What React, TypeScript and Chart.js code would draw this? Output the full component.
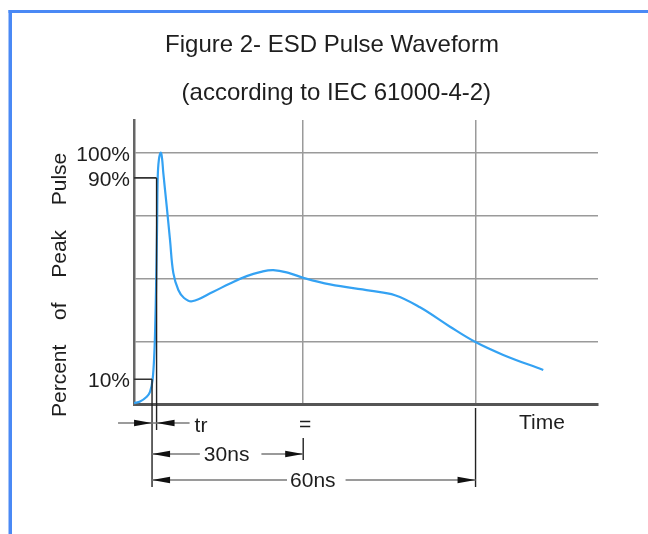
import React, { useEffect, useRef } from "react";
import { Chart, registerables } from "chart.js";

Chart.register(...registerables);

// ---- data ----
const titleLines = ["Figure 2- ESD Pulse Waveform", " (according to IEC 61000-4-2)"];
const yAxisWords = ["Percent", "of", "Peak", "Pulse"];
const xAxisLabel = "Time";

// time in ns (0 = 10% crossing), value in percent of peak
const timeNs = [
  -3.57, -2.38, -1.05, -0.4, 0.1, 0.46, 0.66, 0.79, 0.99, 1.13, 1.35, 1.73, 1.98, 2.24, 2.92,
  3.57, 4.23, 5.22, 6.35, 7.94, 12.16, 15.48, 18.79, 21.43, 24.07, 27.38, 30.02, 35.32, 43.25,
  48.21, 53.17, 59.13, 64.09, 69.7, 77.64,
];
const pulsePercent = [
  0.6, 1.2, 3.1, 5.0, 9.7, 20.5, 33.6, 45.5, 69.3, 90.3, 97.1, 100, 97.9, 91.9, 78.6, 65.3, 52.2,
  45.5, 42.3, 41.0, 44.8, 48.1, 51.0, 52.6, 53.4, 52.1, 50.3, 47.7, 45.2, 43.4, 38.6, 30.9, 24.9,
  19.7, 13.7,
];

const gridPercents = [0, 25, 50, 75, 100];
const gridTimes = [30, 64.2];
const yTickValues = [100, 90, 10];
const yTickLabels = ["100%", "90%", "10%"];
const riseTimes = [0, 0.9]; // 10% and 90% marker lines
const dimLabels = ["tr", "=", "30ns", "60ns"];

const FONT = '"Liberation Sans", Arial, Helvetica, sans-serif';

function arrowHead(ctx: CanvasRenderingContext2D, tipX: number, y: number, dir: number) {
  ctx.beginPath();
  ctx.moveTo(tipX, y);
  ctx.lineTo(tipX - dir * 18, y - 3.2);
  ctx.lineTo(tipX - dir * 18, y + 3.2);
  ctx.closePath();
  ctx.fill();
}

const overlay = {
  id: "overlay",
  beforeDraw(chart: any) {
    const ctx = chart.ctx as CanvasRenderingContext2D;
    ctx.save();
    ctx.fillStyle = "#ffffff";
    ctx.fillRect(0, 0, chart.width, chart.height);
    ctx.fillStyle = "#4a89f5";
    ctx.fillRect(8.5, 10, 3.5, chart.height);
    ctx.fillRect(8.5, 10, chart.width, 3);
    ctx.restore();
  },
  afterDraw(chart: any) {
    const ctx = chart.ctx as CanvasRenderingContext2D;
    const xs = chart.scales.x;
    const ys = chart.scales.y;
    const area = chart.chartArea;
    ctx.save();
    ctx.fillStyle = "#1e1e1e";
    ctx.textBaseline = "middle";

    // title
    ctx.font = `24px ${FONT}`;
    ctx.textAlign = "center";
    ctx.fillText(titleLines[0], 332, 45);
    ctx.fillText(titleLines[1], 333, 93);

    // y tick labels
    ctx.font = `21px ${FONT}`;
    ctx.textAlign = "right";
    yTickValues.forEach((v, i) => {
      ctx.fillText(yTickLabels[i], 130, ys.getPixelForValue(v) + 2);
    });

    // rotated, justified y axis label
    ctx.save();
    ctx.translate(60, 0);
    ctx.rotate(-Math.PI / 2);
    ctx.textAlign = "left";
    const start = 417;
    const end = ys.getPixelForValue(100);
    const widths = yAxisWords.map((w) => ctx.measureText(w).width);
    const total = widths.reduce((a, b) => a + b, 0);
    const gap = (start - end - total) / (yAxisWords.length - 1);
    let pos = start;
    yAxisWords.forEach((w, i) => {
      ctx.fillText(w, -pos, 0);
      pos -= widths[i] + gap;
    });
    ctx.restore();

    const x10 = xs.getPixelForValue(riseTimes[0]);
    const x90 = xs.getPixelForValue(riseTimes[1]);
    const x30 = xs.getPixelForValue(gridTimes[0]);
    const x60 = xs.getPixelForValue(gridTimes[1]);
    const y10 = ys.getPixelForValue(yTickValues[2]);
    const y90 = ys.getPixelForValue(yTickValues[1]);

    // short level markers
    ctx.strokeStyle = "#333333";
    ctx.lineWidth = 1.6;
    ctx.beginPath();
    ctx.moveTo(area.left, y90);
    ctx.lineTo(x90, y90);
    ctx.moveTo(area.left, y10);
    ctx.lineTo(x10, y10);
    ctx.stroke();

    // vertical dimension lines
    ctx.strokeStyle = "#222222";
    ctx.lineWidth = 1.4;
    ctx.beginPath();
    ctx.moveTo(x10, y10);
    ctx.lineTo(x10, 487);
    ctx.moveTo(x90, y90);
    ctx.lineTo(x90, 430);
    ctx.moveTo(x30, 438);
    ctx.lineTo(x30, 460);
    ctx.moveTo(x60, 408);
    ctx.lineTo(x60, 487);
    ctx.stroke();

    // row 1: tr
    const r1 = 423;
    ctx.strokeStyle = "#7a7a7a";
    ctx.lineWidth = 1.5;
    ctx.beginPath();
    ctx.moveTo(x10 - 34, r1);
    ctx.lineTo(x90 + 33, r1);
    ctx.stroke();
    ctx.fillStyle = "#111111";
    arrowHead(ctx, x10, r1, 1);
    arrowHead(ctx, x90, r1, -1);
    ctx.fillStyle = "#1e1e1e";
    ctx.textAlign = "left";
    ctx.fillText(dimLabels[0], x90 + 38, r1 + 3);
    ctx.textAlign = "center";
    ctx.fillText(dimLabels[1], x30 + 2, r1 + 2);

    // rows 2 and 3
    const rows: [number, number, string, number, number][] = [
      [454, x30, dimLabels[2], 4, 12],
      [480, x60, dimLabels[3], 3, 10],
    ];
    rows.forEach(([ry, xr, label, gl, gr]) => {
      const mid = (x10 + xr) / 2 - 1;
      const tw = ctx.measureText(label).width;
      ctx.strokeStyle = "#7a7a7a";
      ctx.beginPath();
      ctx.moveTo(x10, ry);
      ctx.lineTo(mid - tw / 2 - gl, ry);
      ctx.moveTo(mid + tw / 2 + gr, ry);
      ctx.lineTo(xr, ry);
      ctx.stroke();
      ctx.fillStyle = "#111111";
      arrowHead(ctx, x10, ry, -1);
      arrowHead(ctx, xr, ry, 1);
      ctx.fillStyle = "#1e1e1e";
      ctx.textAlign = "center";
      ctx.fillText(label, mid, ry + 1);
    });

    // x axis label
    ctx.textAlign = "center";
    ctx.fillText(xAxisLabel, 542, 423);
    ctx.restore();
  },
};

export default function App() {
  const ref = useRef<HTMLCanvasElement | null>(null);
  useEffect(() => {
    if (!ref.current) return;
    const chart = new Chart(ref.current, {
      type: "line",
      data: {
        datasets: [
          {
            data: timeNs.map((t, i) => ({ x: t, y: pulsePercent[i] })),
            borderColor: "#34a2f3",
            borderWidth: 2.2,
            pointRadius: 0,
            tension: 0.4,
            fill: false,
          },
        ],
      },
      options: {
        animation: false,
        responsive: false,
        devicePixelRatio: 1,
        layout: { padding: { left: 134, right: 50, top: 120, bottom: 129.5 } },
        plugins: { legend: { display: false }, tooltip: { enabled: false }, title: { display: false } },
        scales: {
          x: {
            type: "linear",
            min: -3.58,
            max: 88.5,
            afterBuildTicks: (s: any) => {
              s.ticks = gridTimes.map((v) => ({ value: v }));
            },
            ticks: { display: false },
            grid: { color: "#9a9a9a", lineWidth: 1.5, drawTicks: false },
            border: { display: true, color: "#555555", width: 3 },
          },
          y: {
            type: "linear",
            min: 0,
            max: 113,
            afterBuildTicks: (s: any) => {
              s.ticks = gridPercents.map((v) => ({ value: v }));
            },
            ticks: { display: false },
            grid: { color: "#9a9a9a", lineWidth: 1.5, drawTicks: false },
            border: { display: true, color: "#666666", width: 2.5 },
          },
        },
      },
      plugins: [overlay],
    });
    return () => chart.destroy();
  }, []);
  return (
    <div style={{ position: "fixed", left: 0, top: 0, width: 648, height: 534 }}>
      <canvas ref={ref} width={648} height={534} style={{ display: "block" }} />
    </div>
  );
}
